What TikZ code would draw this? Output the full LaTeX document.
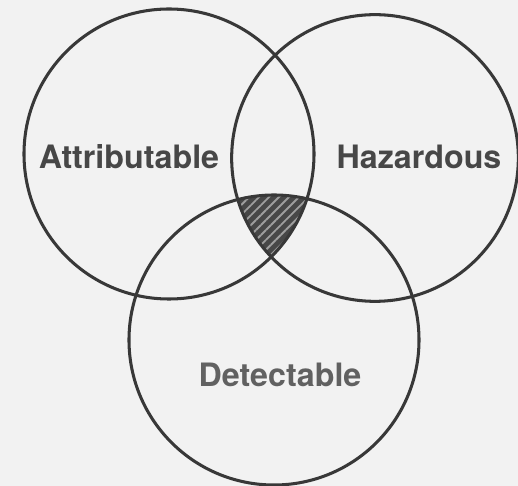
\documentclass[tikz,border=0pt]{standalone}
\usepackage{fontspec}
\setmainfont{TeX Gyre Heros}
\usetikzlibrary{patterns.meta}
\begin{document}
\begin{tikzpicture}[x=0.03cm,y=-0.03cm]
	 \tikzstyle{set}=[circle,draw=black!78,line width=2.6pt,minimum size=8.7cm,inner sep=0pt]
	 \tikzstyle{setname}=[font=\fontsize{27.5}{30}\selectfont\bfseries,text=black!72,inner sep=0pt]
	 \tikzstyle{overlap}=[fill=black!72]
	 \tikzstyle{hatch}=[pattern={Lines[angle=45,distance=6pt,line width=1.6pt]},pattern color=black!38]

	 \fill[black!5] (0,0) rectangle (518,486);
	 \useasboundingbox (0,0) rectangle (518,486);

	 % the part all three sets share
	 \begin{scope}
	  \clip (169,154) circle[radius=4.35cm];
	  \clip (375,158) circle[radius=4.3cm];
	  \fill[overlap] (274,340) circle[radius=4.35cm];
	  \fill[hatch] (274,340) circle[radius=4.35cm];
	 \end{scope}

	 \node[set] (attr) at (169,154) {};
	 \node[set,minimum size=8.6cm] (haz) at (375,158) {};
	 \node[set] (det) at (274,340) {};

	 \node[setname] (attrlabel) at (129,157) {Attributable};
	 \node[setname] (hazlabel) at (419,157) {Hazardous};
	 \node[setname,text=black!62] (detlabel) at (280,375) {Detectable};
\end{tikzpicture}
\end{document}
